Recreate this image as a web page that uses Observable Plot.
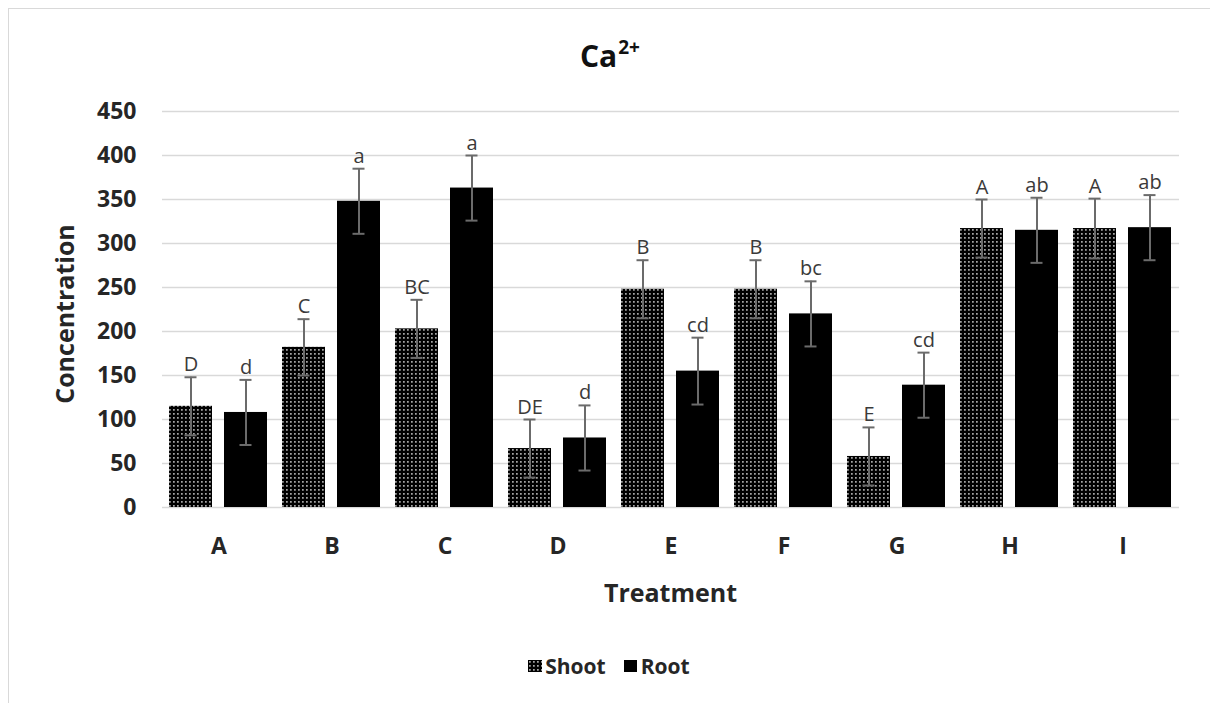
<!DOCTYPE html>
<html>
<head>
<meta charset="utf-8">
<script src="https://cdn.jsdelivr.net/npm/d3@7"></script>
<script src="https://cdn.jsdelivr.net/npm/@observablehq/plot@0.6"></script>
<style>
  body { margin: 0; background: #fff; font-family: "Open Sans", Lato, sans-serif; }
  #wrap { position: relative; width: 1210px; height: 703px; overflow: hidden; background: #fff; }
  #frame { position: absolute; left: 8px; top: 8px; width: 1300px; height: 800px;
           border-top: 1.5px solid #d9d9d9; border-left: 1.5px solid #d9d9d9; }
  #chart { position: absolute; left: 0; top: 0; }
  #title { position: absolute; top: 29px; left: 0; width: 1220px; text-align: center;
           font-weight: bold; font-size: 30px; color: #111; line-height: 40px; }
  #title sup { font-size: 19px; position: relative; top: -2px; margin-left: 1px; }
  .axtitle { position: absolute; font-weight: bold; font-size: 25px; color: #262626; white-space: nowrap; }
  #xtitle { left: 0; width: 1341px; text-align: center; top: 572px; line-height: 40px; }
  #ytitle { left: 64px; top: 314px; transform: translate(-50%, -50%) rotate(-90deg); line-height: 30px; }
  #legend { position: absolute; top: 652px; left: 0; width: 1218px; display: flex; justify-content: center;
            align-items: center; font-weight: bold; font-size: 21px; color: #262626; }
  #legend .item { display: flex; align-items: center; margin: 0 9px; }
  #legend svg { margin-right: 3px; }
</style>
</head>
<body>
<div id="wrap">
  <div id="frame"></div>
  <div id="chart"></div>
  <div id="title">Ca<sup>2+</sup></div>
  <div id="xtitle" class="axtitle">Treatment</div>
  <div id="ytitle" class="axtitle">Concentration</div>
  <div id="legend"></div>
</div>
<script>
// ---- data ----
const groups = ["A", "B", "C", "D", "E", "F", "G", "H", "I"];
const series = ["Shoot", "Root"];
const shootValues = [115, 182, 203, 67, 248, 248, 58, 317, 317];
const rootValues  = [108, 348, 363, 79, 155, 220, 139, 315, 318];
const shootErrors = [33, 32, 33, 33, 33, 33, 33, 33, 34];
const rootErrors  = [37, 37, 37, 37, 38, 37, 37, 37, 37];
const shootLetters = ["D", "C", "BC", "DE", "B", "B", "E", "A", "A"];
const rootLetters  = ["d", "a", "a", "d", "cd", "bc", "cd", "ab", "ab"];
const yTicks = [0, 50, 100, 150, 200, 250, 300, 350, 400, 450];

const rows = [];
groups.forEach((g, i) => {
  rows.push({group: g, series: "Shoot", value: shootValues[i], err: shootErrors[i], letter: shootLetters[i]});
  rows.push({group: g, series: "Root", value: rootValues[i], err: rootErrors[i], letter: rootLetters[i]});
});
const shootRows = rows.filter(d => d.series === "Shoot");
const rootRows = rows.filter(d => d.series === "Root");

const chart = Plot.plot({
  width: 1210,
  height: 703,
  marginTop: 111,
  marginBottom: 196,
  marginLeft: 158,
  marginRight: 27,
  style: { background: "transparent", fontFamily: "'Open Sans', Lato, sans-serif", color: "#262626" },
  fx: { domain: groups, padding: 0 },
  x: { domain: series, paddingInner: 0.21, paddingOuter: 0.12, axis: null },
  y: { domain: [0, 450] },
  marks: [
    Plot.gridY({ ticks: yTicks, stroke: "#d9d9d9", strokeOpacity: 1, strokeWidth: 1.5 }),
    Plot.axisY({ ticks: yTicks, tickSize: 0, tickPadding: 26, fontSize: 23, fontWeight: "bold", label: null, fill: "#262626" }),
    Plot.axisFx({ anchor: "bottom", tickSize: 0, tickPadding: 30, fontSize: 23, fontWeight: "bold", label: null, fill: "#262626" }),
    Plot.barY(shootRows, { fx: "group", x: "series", y: "value", fill: "url(#dots)" }),
    Plot.barY(rootRows, { fx: "group", x: "series", y: "value", fill: "#000" }),
    Plot.ruleX(rows, { fx: "group", x: "series", y1: d => d.value - d.err, y2: d => d.value + d.err, stroke: "#6b6b6b", strokeWidth: 2 }),
    Plot.tickY(rows, { fx: "group", x: "series", y: d => d.value + d.err, stroke: "#6b6b6b", strokeWidth: 2, insetLeft: 15.5, insetRight: 15.5 }),
    Plot.tickY(rows, { fx: "group", x: "series", y: d => d.value - d.err, stroke: "#6b6b6b", strokeWidth: 2, insetLeft: 15.5, insetRight: 15.5 }),
    Plot.text(rows, { fx: "group", x: "series", y: d => d.value + d.err, text: "letter", dy: -6, lineAnchor: "bottom", fontSize: 20, fill: "#3a3a3a" })
  ]
});

const patternDef = `<pattern id="dots" patternUnits="userSpaceOnUse" width="4" height="4">
  <rect width="4" height="4" fill="#000"/>
  <rect x="1.2" y="1.2" width="1.4" height="1.4" fill="#fff"/>
</pattern>`;
d3.select(chart).insert("defs", ":first-child").html(patternDef);
document.getElementById("chart").appendChild(chart);

// legend
const legend = d3.select("#legend");
series.forEach(s => {
  const item = legend.append("div").attr("class", "item");
  const sw = item.append("svg").attr("width", 14).attr("height", 12);
  if (s === "Shoot") {
    sw.append("defs").html(patternDef.replace('id="dots"', 'id="dotsLegend"'));
    sw.append("rect").attr("width", 14).attr("height", 12).attr("fill", "url(#dotsLegend)");
  } else {
    sw.append("rect").attr("width", 13).attr("height", 12).attr("fill", "#000");
  }
  item.append("span").text(s);
});
</script>
</body>
</html>
